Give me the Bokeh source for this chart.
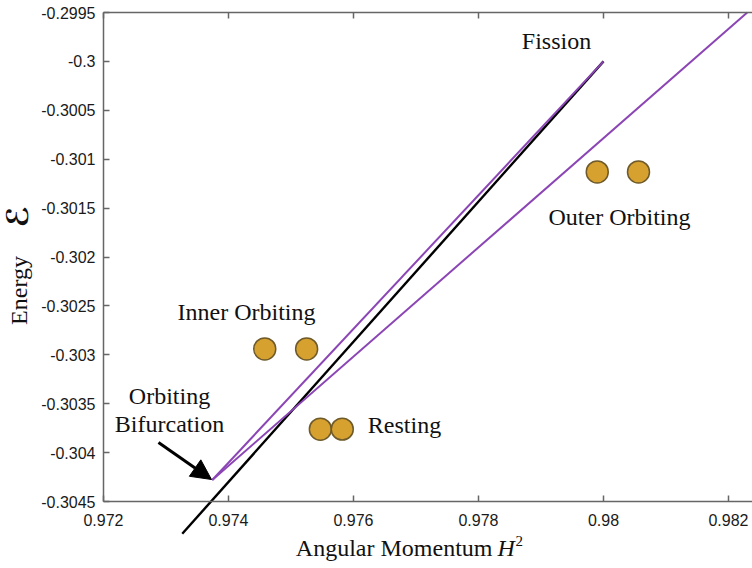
import math
from bokeh.plotting import figure
from bokeh.models import Range1d, LinearAxis, FixedTicker, CustomJSTickFormatter, Arrow, NormalHead
from bokeh.core.properties import value
from bokeh.embed import file_html
from bokeh.resources import INLINE

# ---- data ----
x_ticks = [0.972, 0.974, 0.976, 0.978, 0.980, 0.982]
x_tick_labels = ["0.972", "0.974", "0.976", "0.978", "0.98", "0.982"]
y_ticks = [-0.3045, -0.3040, -0.3035, -0.3030, -0.3025, -0.3020,
           -0.3015, -0.3010, -0.3005, -0.3000, -0.2995]
y_tick_labels = ["-0.3045", "-0.304", "-0.3035", "-0.303", "-0.3025", "-0.302",
                 "-0.3015", "-0.301", "-0.3005", "-0.3", "-0.2995"]

black_x = [0.97326, 0.98000]
black_y = [-0.30483, -0.30000]
purple_inner_x = [0.97374, 0.98000]
purple_inner_y = [-0.30428, -0.30000]
purple_outer_x = [0.97374, 0.98230]
purple_outer_y = [-0.30428, -0.29950]

inner_x = [0.97458, 0.97525]
inner_y = [-0.30294, -0.30294]
resting_x = [0.97547, 0.97582]
resting_y = [-0.30376, -0.30376]
outer_x = [0.97990, 0.98056]
outer_y = [-0.30113, -0.30113]

labels = ["Fission", "Outer Orbiting", "Inner Orbiting", "Orbiting", "Bifurcation", "Resting"]

# ---- layout helpers (page pixel -> data) ----
X0, XPX, PX0 = 0.972, 62500.0, 103.0
Y0, YPX, PY0 = -0.2995, 97800.0, 12.0
def px2x(px):
    return X0 + (px - PX0) / XPX
def py2y(py):
    return Y0 - (py - PY0) / YPX

W, H = 752, 568
p = figure(width=W, height=H, output_backend="svg", toolbar_location=None,
           x_range=Range1d(px2x(0), px2x(W)), y_range=Range1d(py2y(H), py2y(0)),
           min_border=0, min_border_left=0, min_border_right=0,
           min_border_top=0, min_border_bottom=0)
p.outline_line_color = None
p.grid.visible = False
p.background_fill_color = "white"
p.border_fill_color = "white"

AX_COLOR = "#666666"
TICK_FONT = "Liberation Sans"
SERIF = "Liberation Serif"

def style_axis(ax, standoff):
    ax.axis_line_color = AX_COLOR
    ax.axis_line_width = 1.5
    ax.major_tick_line_color = AX_COLOR
    ax.major_tick_line_width = 1.5
    ax.major_tick_in = 6
    ax.major_tick_out = 0
    ax.minor_tick_line_color = None
    ax.major_label_text_font = TICK_FONT
    ax.major_label_text_font_size = "16px"
    ax.major_label_text_color = "#1a1a1a"
    ax.major_label_standoff = standoff

LOOKUP = "for (let i=0;i<t.length;i++){ if (Math.abs(t[i]-tick)<1e-9) return l[i]; } return '';"
xfmt = CustomJSTickFormatter(args=dict(t=x_ticks, l=x_tick_labels), code=LOOKUP)
yfmt = CustomJSTickFormatter(args=dict(t=y_ticks, l=y_tick_labels), code=LOOKUP)

xa = p.xaxis[0]
xa.ticker = FixedTicker(ticks=x_ticks)
xa.formatter = xfmt
xa.fixed_location = y_ticks[0]
xa.bounds = (x_ticks[0], px2x(W))
style_axis(xa, 12)

ya = p.yaxis[0]
ya.ticker = FixedTicker(ticks=y_ticks)
ya.formatter = yfmt
ya.fixed_location = x_ticks[0]
ya.bounds = (y_ticks[0], y_ticks[-1])
style_axis(ya, 8)

top = LinearAxis(ticker=FixedTicker(ticks=x_ticks), fixed_location=y_ticks[-1],
                 bounds=(x_ticks[0], px2x(W)))
style_axis(top, 0)
top.major_label_text_font_size = "1px"
top.major_label_text_color = None
top.major_label_text_alpha = 0
p.add_layout(top, "above")

# ---- lines ----
p.line(black_x, black_y, line_color="black", line_width=2.4)
p.line(purple_inner_x, purple_inner_y, line_color="#8B45B5", line_width=2.0)
p.line(purple_outer_x, purple_outer_y, line_color="#8B45B5", line_width=2.0)

# ---- points ----
for xs, ys in [(inner_x, inner_y), (resting_x, resting_y), (outer_x, outer_y)]:
    p.scatter(xs, ys, size=22, fill_color="#D6A12E", line_color="#6E5A2A", line_width=1.5)

# ---- arrow ----
p.add_layout(Arrow(end=NormalHead(size=20, fill_color="black", line_color="black"),
                   x_start=px2x(158), y_start=py2y(442), x_end=px2x(211), y_end=py2y(479),
                   line_color="black", line_width=3))

# ---- annotations ----
label_px = [(556, 40), (619, 216), (246, 311), (169, 395), (169, 423), (404, 424)]
p.text(x=[px2x(a) for a, b in label_px], y=[py2y(b) for a, b in label_px], text=labels,
       text_font=value(SERIF), text_font_size="24px", text_color="#111111",
       text_align="center", text_baseline="middle")

# x-axis title
p.text(x=[px2x(492)], y=[py2y(547)], text=["Angular Momentum"],
       text_font=value(SERIF), text_font_size="24px", text_color="#111111",
       text_align="right", text_baseline="middle")
p.text(x=[px2x(497)], y=[py2y(547)], text=["H"],
       text_font=value(SERIF), text_font_size="24px", text_font_style="italic",
       text_color="#111111", text_align="left", text_baseline="middle")
p.text(x=[px2x(515)], y=[py2y(540)], text=["2"],
       text_font=value(SERIF), text_font_size="15px",
       text_color="#111111", text_align="left", text_baseline="middle")

# y-axis title
p.text(x=[px2x(18)], y=[py2y(290)], text=["Energy"], angle=math.pi / 2,
       text_font=value(SERIF), text_font_size="24px", text_color="#111111",
       text_align="center", text_baseline="middle")
p.text(x=[px2x(17)], y=[py2y(216)], text=["ℰ"], angle=math.pi / 2,
       text_font=value("DejaVu Sans"), text_font_size="30px", text_font_style="bold",
       text_color="#111111", text_align="center", text_baseline="middle")

open("out.html", "w").write(file_html(p, INLINE))
